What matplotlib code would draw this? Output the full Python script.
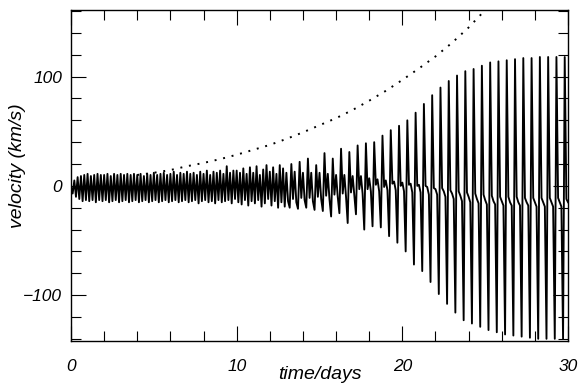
import numpy as np
from matplotlib import pyplot as plt
from matplotlib.ticker import MultipleLocator

plt.rcParams['font.family'] = ['Liberation Sans', 'DejaVu Sans']
plt.rcParams['font.style'] = 'italic'

STEP = 0.1  # days between velocity samples

# velocity samples (km/s), one row per day
velocity = [
    0, -7, 5, -10, 8, -12, 9, -14, 10, -13,        # 0
    11, -14, 9, -13, 10, -15, 11, -13, 10, -14,    # 1
    10, -13, 11, -15, 9, -14, 11, -13, 10, -15,    # 2
    11, -14, 10, -13, 11, -15, 10, -14, 11, -13,   # 3
    10, -15, 11, -14, 9, -13, 11, -15, 10, -14,    # 4
    12, -13, 10, -15, 11, -14, 12, -13, 10, -15,   # 5
    11, -14, 13, -13, 10, -15, 12, -14, 11, -13,   # 6
    13, -15, 11, -14, 12, -13, 10, -16, 13, -14,   # 7
    11, -13, 14, -15, 10, -14, 13, -16, 12, -13,   # 8
    14, -15, 11, -14, 18, -13, 12, -16, 14, -12,   # 9
    14, -15, 12, -17, 16, -13, 11, -18, 17, -14,   # 10
    12, -16, 18, -13, 10, -19, 15, -16, 19, -12,   # 11
    13, -18, 17, -14, 11, -20, 19, -15, 16, -19,   # 12
    12, -14, -20, 20, -12, 13, -15, -21, 22, -11,  # 13
    12, -13, -20, 25, -11, 12, -14, -22, 19, -10,  # 14
    12, -12, -23, 30, -9, 11, -12, -28, 25, -8,    # 15
    10, -10, -25, 34, -7, 10, -10, -34, 31, -6,    # 16
    9, -8, -26, 37, -3, 9, -7, -40, 39, -3,        # 17
    7, -5, -37, 40, 1, 6, -5, -38, 46, -1,         # 18
    5, -4, -46, 51, 2, 4, -4, -52, 55, 0,          # 19
    3, -5, -60, 60, 1, 2, -6, -72, 67, 0,          # 20
    1, -6, -78, 75, 0, -1, -8, -88, 83, -2,        # 21
    -3, -8, -99, 90, -2, -5, -10, -108, 96, -4,    # 22
    -7, -12, -116, 101, -5, -9, -14, -123, 105, -6,   # 23
    -10, -15, -126, 107, -7, -12, -16, -129, 110, -8,  # 24
    -13, -17, -132, 113, -9, -14, -17, -134, 114, -10,  # 25
    -14, -18, -136, 115, -10, -15, -18, -137, 116, -10,  # 26
    -15, -18, -138, 117, -11, -15, -18, -139, 117, -11,  # 27
    -15, -19, -140, 118, -11, -15, -19, -140, 118, -11,  # 28
    -15, -19, -140, 118, -11, -15, -19, -140, 118, -12,  # 29
    -15,                                              # 30
]
time = np.arange(len(velocity)) * STEP

# dotted growth curve
growth_t = [4, 5, 6, 7, 8, 9, 10, 11, 12, 13, 14, 15, 16, 17, 18, 19, 20, 21, 22, 23, 24, 25]
growth_v = [10, 12, 14.5, 18, 21, 24.5, 28.5, 33, 37.5, 43, 49, 55.5, 62, 69.5, 78, 87, 97,
            107.5, 118.5, 131, 145, 161]

fig = plt.figure(figsize=(5.82, 3.85), dpi=100)
ax = fig.add_axes([0.122, 0.1143, 0.854, 0.8597])

ax.plot(time, velocity, color='black', lw=1.35)
ax.plot(growth_t, growth_v, color='black', lw=1.4, dashes=(1, 3.5))

ax.set_xlim(0, 30)
ax.set_ylim(-142, 161)
ax.xaxis.set_major_locator(MultipleLocator(10))
ax.xaxis.set_minor_locator(MultipleLocator(2))
ax.yaxis.set_major_locator(MultipleLocator(100))
ax.yaxis.set_minor_locator(MultipleLocator(20))

ax.tick_params(which='both', direction='in', top=True, right=True, width=0.8, labelsize=12.5)
ax.tick_params(which='major', length=11)
ax.tick_params(which='minor', length=7)
ax.tick_params(axis='x', pad=13)
ax.tick_params(axis='y', pad=6.5)
for s in ax.spines.values():
    s.set_linewidth(1.0)

ax.set_xlabel("time/days", fontsize=14)
ax.set_ylabel("velocity (km/s)", fontsize=14)
ax.xaxis.set_label_coords(0.5, -0.075)
ax.yaxis.set_label_coords(-0.09, 0.53)

plt.savefig("out.png", dpi=100)
